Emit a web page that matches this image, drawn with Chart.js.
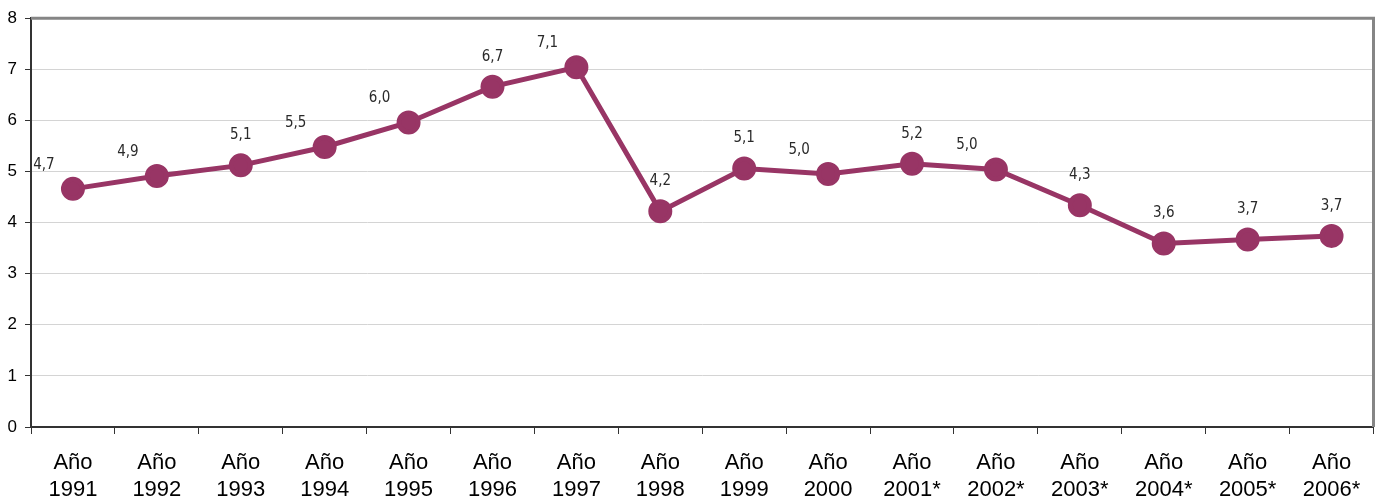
<!DOCTYPE html>
<html>
<head>
<meta charset="utf-8">
<script src="https://cdn.jsdelivr.net/npm/chart.js@4"></script>
<style>
  html, body { margin: 0; padding: 0; background: #fff; }
  #wrap { width: 1388px; height: 497px; }
</style>
</head>
<body>
<div id="wrap"><canvas id="lineChart" width="1388" height="497"></canvas></div>
<script>
const years = ['1991', '1992', '1993', '1994', '1995', '1996', '1997', '1998',
  '1999', '2000', '2001*', '2002*', '2003*', '2004*', '2005*', '2006*'];
const values = [4.66, 4.91, 5.12, 5.48, 5.96, 6.66, 7.04, 4.22,
  5.06, 4.95, 5.15, 5.04, 4.34, 3.59, 3.67, 3.74];
const valueLabels = ['4,7', '4,9', '5,1', '5,5', '6,0', '6,7', '7,1', '4,2',
  '5,1', '5,0', '5,2', '5,0', '4,3', '3,6', '3,7', '3,7'];
const yTicks = [0, 1, 2, 3, 4, 5, 6, 7, 8];

// labels that sit up-left of their point instead of straight above
const shiftedLeft = [0, 1, 3, 4, 6, 9, 11];

const frame = {
  id: 'frame',
  afterDraw(chart) {
    const { ctx, chartArea: a } = chart;
    ctx.save();
    ctx.strokeStyle = '#858585';
    ctx.lineWidth = 3;
    ctx.beginPath();
    ctx.moveTo(a.left, a.top);
    ctx.lineTo(a.right, a.top);
    ctx.lineTo(a.right, a.bottom);
    ctx.stroke();
    ctx.restore();
  }
};

const pointLabels = {
  id: 'pointLabels',
  afterDatasetsDraw(chart) {
    const { ctx } = chart;
    const meta = chart.getDatasetMeta(0);
    ctx.save();
    ctx.font = '15px "Liberation Sans Narrow", "DejaVu Sans Condensed", sans-serif';
    ctx.fillStyle = '#2a2a2a';
    ctx.textAlign = 'center';
    ctx.textBaseline = 'middle';
    meta.data.forEach((pt, i) => {
      const left = shiftedLeft.includes(i);
      ctx.fillText(valueLabels[i], pt.x - (left ? 29 : 0), pt.y - (left ? 24 : 30));
    });
    ctx.restore();
  }
};

new Chart(document.getElementById('lineChart'), {
  type: 'line',
  data: {
    labels: years.map(y => ['Año', y]),
    datasets: [{
      data: values,
      borderColor: '#983565',
      backgroundColor: '#983565',
      borderWidth: 5,
      pointRadius: 9.5,
      pointHoverRadius: 9.5,
      tension: 0
    }]
  },
  options: {
    responsive: false,
    animation: false,
    layout: { padding: { top: 18, right: 11, left: 0, bottom: 0 } },
    plugins: { legend: { display: false }, tooltip: { enabled: false } },
    scales: {
      x: {
        type: 'category',
        offset: true,
        afterFit(scale) { scale.height = 70; },
        grid: {
          offset: true,
          drawOnChartArea: false,
          tickLength: 7,
          tickColor: '#333',
          tickWidth: 1
        },
        border: { color: '#333', width: 2 },
        ticks: {
          maxRotation: 0,
          autoSkip: false,
          padding: 15,
          color: '#000',
          font: { family: '"Liberation Sans", Arial, sans-serif', size: 22, lineHeight: 1.25 }
        }
      },
      y: {
        type: 'linear',
        min: 0,
        max: 8,
        afterFit(scale) { scale.width = 31; },
        afterBuildTicks(scale) { scale.ticks = yTicks.map(v => ({ value: v })); },
        grid: {
          color: '#d4d4d4',
          lineWidth: 1,
          tickLength: 6,
          tickColor: '#333'
        },
        border: { color: '#333', width: 2 },
        ticks: {
          padding: 8,
          color: '#000',
          font: { family: '"Liberation Sans", Arial, sans-serif', size: 17 }
        }
      }
    }
  },
  plugins: [frame, pointLabels]
});
</script>
</body>
</html>
